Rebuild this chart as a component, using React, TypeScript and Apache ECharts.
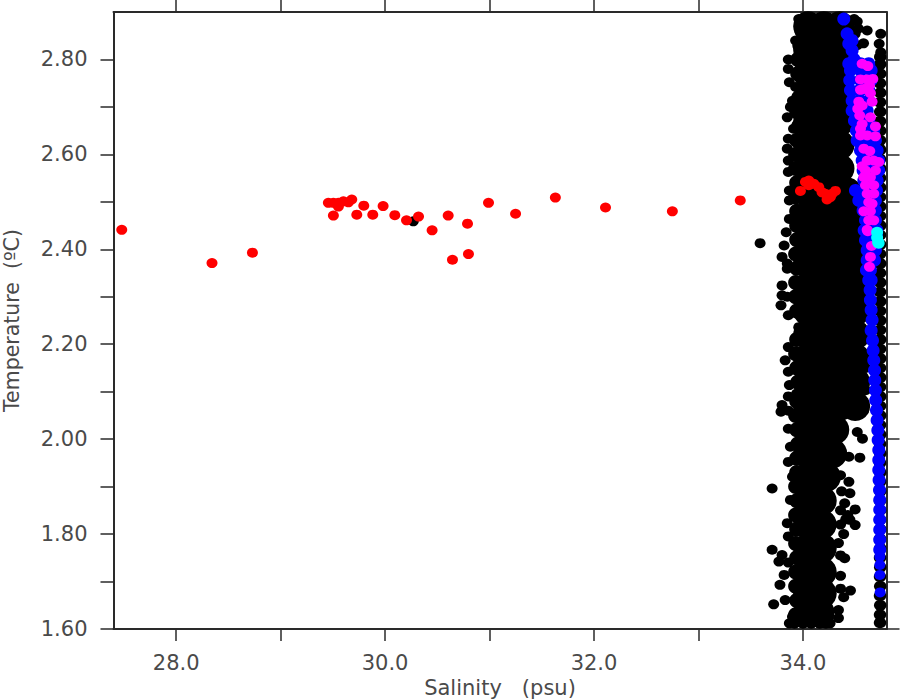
import React, { useEffect, useRef } from "react";
import * as echarts from "echarts";

const xTicks = [28, 29, 30, 31, 32, 33, 34];
const xLabels = [28, 30, 32, 34];
const yTicks = [1.6, 1.7, 1.8, 1.9, 2.0, 2.1, 2.2, 2.3, 2.4, 2.5, 2.6, 2.7, 2.8];
const yLabels = [1.6, 1.8, 2.0, 2.2, 2.4, 2.6, 2.8];

// dense middle of the black cloud: [temperature, salinities]
const blackCoreRows: [number, number[]][] = [
  [2.87, [34.05, 34.2, 34.35]], [2.82, [34.05, 34.2, 34.35]], [2.77, [34.05, 34.2, 34.35]],
  [2.72, [34.05, 34.2, 34.35]], [2.67, [34.05, 34.2, 34.35]], [2.62, [34.05, 34.2, 34.35]],
  [2.57, [34.05, 34.2, 34.35]], [2.52, [34.05, 34.2, 34.35, 34.42]], [2.47, [34.05, 34.2, 34.35, 34.5]],
  [2.42, [34.05, 34.2, 34.35, 34.5]], [2.37, [34.05, 34.2, 34.35, 34.5]], [2.32, [34.05, 34.2, 34.35, 34.5]],
  [2.27, [34.05, 34.2, 34.35, 34.5]], [2.22, [34.05, 34.2, 34.35, 34.5]], [2.17, [34.05, 34.2, 34.35, 34.5]],
  [2.12, [34.05, 34.2, 34.35, 34.5]], [2.07, [34.05, 34.2, 34.35, 34.5]], [2.02, [34.05, 34.2, 34.3]],
  [1.97, [34.05, 34.18, 34.28]], [1.92, [34.05, 34.18, 34.22]], [1.87, [34.05, 34.18]], [1.82, [34.05, 34.18]],
  [1.77, [34.05, 34.18]], [1.72, [34.05, 34.18]], [1.675, [34.05, 34.18]], [1.635, [34.05, 34.16]],
];

const blackEdge: number[][] = [
  [33.96, 2.885], [33.93, 2.84], [33.86, 2.8], [33.86, 2.78], [33.87, 2.752], [33.93, 2.742], [33.9, 2.713], [33.88, 2.7],
  [33.85, 2.678], [33.91, 2.654], [33.86, 2.633], [33.85, 2.612], [33.86, 2.587], [33.86, 2.563], [33.87, 2.524], [33.87, 2.503],
  [33.87, 2.464], [33.84, 2.436], [33.82, 2.408], [33.8, 2.384], [33.85, 2.359], [33.8, 2.324], [33.8, 2.303], [33.79, 2.282],
  [33.86, 2.261], [33.96, 2.236], [33.86, 2.194], [33.83, 2.166], [33.86, 2.142], [33.87, 2.114], [33.94, 2.096], [33.8, 2.072],
  [33.79, 2.058], [33.86, 2.022], [33.88, 1.984], [33.86, 1.952], [33.9, 1.921], [33.705, 1.896], [33.88, 1.872], [33.85, 1.823],
  [33.86, 1.795], [33.705, 1.767], [33.8, 1.756], [33.77, 1.742], [33.82, 1.714], [33.78, 1.693], [33.83, 1.661], [33.72, 1.652],
  [33.9, 1.626], [33.87, 1.612], [33.85, 2.3], [33.85, 2.37], [33.86, 2.09], [33.86, 2.06], [33.86, 1.74],
  [34.36, 1.924], [34.44, 1.91], [34.45, 1.886], [34.5, 1.852], [34.41, 1.831], [34.5, 1.819], [34.39, 1.8], [34.34, 1.781],
  [34.4, 1.749], [34.36, 1.712], [34.455, 1.681], [34.39, 1.667], [34.34, 1.64], [34.34, 1.623], [34.26, 1.612],
  [34.37, 1.89], [34.4, 1.865], [34.36, 1.85], [34.43, 1.84], [34.36, 1.82], [34.45, 1.83], [34.36, 1.685], [34.36, 1.755],
  [34.52, 2.015], [34.57, 2.001], [34.44, 1.963], [34.545, 1.961], [34.58, 2.06], [34.6, 2.103], [34.6, 2.15],
  [34.49, 2.885], [34.5, 2.854], [34.615, 2.861], [34.58, 2.834], [34.745, 2.854], [34.73, 2.833], [34.745, 2.815],
  [34.52, 2.88], [34.53, 2.865], [34.52, 2.83],
  [33.92, 1.611], [34.0, 1.611], [34.08, 1.611], [34.16, 1.611], [34.22, 1.611],
  [33.59, 2.413], [30.27, 2.459],
];

const blackInner: number[][] = [
  [33.93, 1.63], [33.94, 1.66], [33.93, 1.69], [33.93, 1.72], [33.94, 1.75], [33.93, 1.78], [33.94, 1.81], [33.93, 1.84],
  [33.94, 1.87], [33.93, 1.9], [33.94, 1.93], [33.94, 1.96], [33.95, 1.99], [33.94, 2.02], [33.93, 2.05], [33.94, 2.08],
  [33.95, 2.12], [33.94, 2.15], [33.93, 2.18], [33.94, 2.21], [33.94, 2.27], [33.93, 2.3], [33.93, 2.33], [33.94, 2.36],
  [33.93, 2.39], [33.94, 2.42], [33.94, 2.45], [33.94, 2.48], [33.93, 2.51], [33.94, 2.54], [33.93, 2.57], [33.93, 2.6],
  [33.94, 2.63], [33.96, 2.66], [33.94, 2.69], [33.96, 2.72], [33.95, 2.77], [33.95, 2.8], [33.97, 2.83], [33.99, 2.86],
];

const blackStrip: number[][] = [
  [34.738, 1.613], [34.738, 1.63], [34.74, 1.65], [34.738, 1.67], [34.74, 1.69], [34.738, 1.71], [34.74, 1.73], [34.738, 1.75],
  [34.74, 1.77], [34.738, 1.79], [34.74, 1.81], [34.738, 1.83], [34.74, 1.85], [34.738, 1.87], [34.74, 1.89], [34.738, 1.91],
  [34.74, 1.93], [34.738, 1.95], [34.74, 1.97], [34.738, 1.99], [34.74, 2.01], [34.738, 2.03], [34.74, 2.05], [34.738, 2.07],
  [34.74, 2.09], [34.738, 2.11], [34.74, 2.13], [34.738, 2.15], [34.74, 2.17], [34.738, 2.19], [34.74, 2.21], [34.738, 2.23],
  [34.74, 2.25], [34.738, 2.27], [34.74, 2.29], [34.738, 2.31], [34.74, 2.33], [34.738, 2.35], [34.74, 2.37], [34.738, 2.39],
  [34.74, 2.41], [34.738, 2.43], [34.74, 2.45], [34.738, 2.47], [34.74, 2.49], [34.738, 2.51], [34.74, 2.53], [34.738, 2.55],
  [34.74, 2.57], [34.738, 2.59], [34.74, 2.61], [34.738, 2.63], [34.74, 2.65], [34.738, 2.67], [34.74, 2.69], [34.738, 2.71],
  [34.74, 2.73], [34.738, 2.75], [34.74, 2.77], [34.74, 2.79], [34.74, 2.805],
];

const bluePoints: number[][] = [
  [34.391, 2.885], [34.423, 2.854], [34.439, 2.833], [34.471, 2.819], [34.47, 2.84], [34.49, 2.8], [34.439, 2.791], [34.551, 2.791], [34.63, 2.791],
  [34.455, 2.777], [34.554, 2.777], [34.653, 2.777], [34.448, 2.756], [34.55, 2.756], [34.653, 2.756], [34.455, 2.735], [34.54, 2.735], [34.63, 2.735],
  [34.471, 2.713], [34.55, 2.713], [34.63, 2.713], [34.471, 2.692], [34.543, 2.692], [34.615, 2.692], [34.493, 2.671], [34.56, 2.671], [34.63, 2.671],
  [34.512, 2.65], [34.595, 2.65], [34.678, 2.65], [34.519, 2.629], [34.606, 2.629], [34.694, 2.629], [34.551, 2.608], [34.63, 2.608], [34.71, 2.608],
  [34.567, 2.587], [34.646, 2.587], [34.726, 2.587], [34.576, 2.566], [34.65, 2.566], [34.726, 2.566], [34.583, 2.545], [34.646, 2.545], [34.71, 2.545],
  [34.503, 2.524], [34.599, 2.524], [34.704, 2.524], [34.535, 2.503], [34.615, 2.503], [34.694, 2.503], [34.576, 2.482], [34.635, 2.482], [34.694, 2.482],
  [34.599, 2.461], [34.646, 2.461], [34.694, 2.461], [34.63, 2.433], [34.667, 2.433], [34.704, 2.433], [34.586, 2.44], [34.646, 2.44], [34.707, 2.44],
  [34.599, 2.419], [34.646, 2.419], [34.694, 2.419], [34.615, 2.398], [34.655, 2.398], [34.694, 2.398], [34.615, 2.377], [34.65, 2.377], [34.685, 2.377],
  [34.608, 2.356], [34.646, 2.356], [34.63, 2.335], [34.653, 2.335],
  [34.643, 2.314], [34.646, 2.293], [34.653, 2.272], [34.662, 2.251], [34.653, 2.229], [34.666, 2.208], [34.672, 2.187], [34.678, 2.166],
  [34.685, 2.145], [34.688, 2.124], [34.694, 2.103], [34.697, 2.082], [34.704, 2.061], [34.71, 2.04], [34.717, 2.019], [34.72, 1.998],
  [34.726, 1.977], [34.726, 1.956], [34.726, 1.935], [34.729, 1.914], [34.733, 1.893], [34.735, 1.872], [34.735, 1.851], [34.735, 1.83],
  [34.735, 1.809], [34.735, 1.788], [34.735, 1.767],
];

const blueLowPoints: number[][] = [
  [34.736, 1.752], [34.736, 1.735], [34.736, 1.714], [34.739, 1.677],
];

const magentaPoints: number[][] = [
  [34.567, 2.791], [34.621, 2.786], [34.551, 2.758], [34.615, 2.758], [34.669, 2.759], [34.551, 2.736], [34.637, 2.745], [34.583, 2.738],
  [34.646, 2.729], [34.535, 2.711], [34.662, 2.711], [34.525, 2.696], [34.567, 2.703], [34.544, 2.682], [34.646, 2.678], [34.567, 2.664],
  [34.551, 2.654], [34.694, 2.659], [34.551, 2.64], [34.615, 2.64], [34.694, 2.638], [34.583, 2.612], [34.64, 2.607], [34.678, 2.587],
  [34.567, 2.575], [34.615, 2.587], [34.726, 2.584], [34.599, 2.566], [34.694, 2.566], [34.583, 2.552], [34.646, 2.552], [34.599, 2.535],
  [34.678, 2.535], [34.615, 2.517], [34.678, 2.517], [34.63, 2.499], [34.662, 2.496], [34.583, 2.48], [34.646, 2.48], [34.63, 2.461],
  [34.615, 2.441], [34.678, 2.461], [34.621, 2.438], [34.656, 2.407], [34.646, 2.384], [34.637, 2.363],
];

const cyanPoints: number[][] = [
  [34.71, 2.436], [34.71, 2.425], [34.72, 2.415], [34.725, 2.413],
];

const redPoints: number[][] = [
  [27.479, 2.441], [28.343, 2.371], [28.73, 2.393], [29.457, 2.498], [29.505, 2.498], [29.553, 2.498], [29.601, 2.501], [29.649, 2.499],
  [29.681, 2.505], [29.553, 2.49], [29.505, 2.471], [29.729, 2.473], [29.796, 2.492], [29.882, 2.473], [29.981, 2.491], [30.093, 2.472],
  [30.205, 2.461], [30.32, 2.469], [30.45, 2.44], [30.604, 2.471], [30.789, 2.454], [30.645, 2.378], [30.798, 2.39], [30.99, 2.498],
  [31.249, 2.475], [31.63, 2.509], [32.11, 2.488], [32.75, 2.48], [33.4, 2.503],
  [33.976, 2.523], [34.024, 2.542], [34.056, 2.545], [34.104, 2.538], [34.152, 2.531], [34.183, 2.52], [34.231, 2.505], [34.263, 2.51],
  [34.311, 2.523], [34.215, 2.517], [34.279, 2.517], [34.056, 2.535],
];

const textColor = "#4a4a4a";
const lineColor = "#2a2a2a";
const font = "'DejaVu Sans', sans-serif";

export default function App() {
  const ref = useRef<HTMLDivElement>(null);
  useEffect(() => {
    const chart = echarts.init(ref.current!, null, { renderer: "svg" });
    const core: number[][] = [];
    blackCoreRows.forEach(([t, ss]) => ss.forEach((s) => core.push([s, t])));
    const scatter = (name: string, data: number[][], color: string, size: number | number[]) => ({
      type: "scatter", name, data, symbol: "circle", symbolSize: size, clip: true,
      itemStyle: { color, opacity: 1 }, silent: true,
    });
    const hidden = { show: false };
    chart.setOption({
      animation: false,
      backgroundColor: "#ffffff",
      grid: { left: 113.5, right: 13.5, top: 12, bottom: 71, containLabel: false, outerBoundsMode: "none" },
      xAxis: [
        {
          type: "value", min: 27.4, max: 34.8, position: "bottom",
          name: "Salinity   (psu)", nameLocation: "middle", nameGap: 48,
          nameTextStyle: { fontFamily: font, fontSize: 21, color: textColor },
          splitLine: hidden,
          axisLine: { show: true, onZero: false, lineStyle: { color: lineColor, width: 2 } },
          axisTick: { show: true, length: 12, customValues: xTicks, lineStyle: { color: lineColor, width: 1.5 } },
          axisLabel: {
            show: true, customValues: xLabels, margin: 23, hideOverlap: false,
            fontFamily: font, fontSize: 21, color: textColor,
            formatter: (v: number) => v.toFixed(1),
          },
        },
        {
          type: "value", min: 27.4, max: 34.8, position: "top",
          splitLine: hidden,
          axisLine: { show: true, onZero: false, lineStyle: { color: lineColor, width: 2 } },
          axisTick: { show: true, length: 12, customValues: xTicks, lineStyle: { color: lineColor, width: 1.5 } },
          axisLabel: hidden,
        },
      ],
      yAxis: [
        {
          type: "value", min: 1.6, max: 2.9, position: "left",
          name: "Temperature  (ºC)", nameLocation: "middle", nameGap: 91, nameRotate: 90,
          nameTextStyle: { fontFamily: font, fontSize: 20.5, color: textColor },
          splitLine: hidden,
          axisLine: { show: true, onZero: false, lineStyle: { color: lineColor, width: 2 } },
          axisTick: { show: true, length: 13, customValues: yTicks, lineStyle: { color: lineColor, width: 1.5 } },
          axisLabel: {
            show: true, customValues: yLabels, margin: 26, hideOverlap: false,
            fontFamily: font, fontSize: 21, color: textColor,
            formatter: (v: number) => v.toFixed(2),
          },
        },
        {
          type: "value", min: 1.6, max: 2.9, position: "right",
          splitLine: hidden,
          axisLine: { show: true, onZero: false, lineStyle: { color: lineColor, width: 2 } },
          axisTick: { show: true, length: 13, customValues: yTicks, lineStyle: { color: lineColor, width: 1.5 } },
          axisLabel: hidden,
        },
      ],
      series: [
        scatter("black core", core, "#000000", 30),
        scatter("black inner", blackInner, "#000000", [15, 15]),
        scatter("black edge", blackEdge, "#000000", [11, 10]),
        scatter("black strip", blackStrip, "#000000", [12.5, 11]),
        scatter("blue", bluePoints, "#0000ff", [13, 13]),
        scatter("blue low", blueLowPoints, "#0000ff", [11, 10]),
        scatter("red", redPoints, "#ff0000", [11, 10]),
        scatter("magenta", magentaPoints, "#ff00ff", [11, 10]),
        scatter("cyan", cyanPoints, "#00ffff", [12, 11]),
      ],
    });
    return () => chart.dispose();
  }, []);
  return <div ref={ref} style={{ position: "fixed", left: 0, top: 0, width: 900, height: 700, background: "#fff" }} />;
}
